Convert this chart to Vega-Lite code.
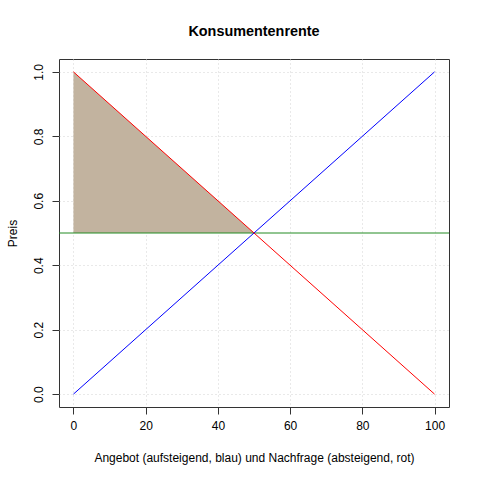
{
  "$schema": "https://vega.github.io/schema/vega-lite/v6.json",
  "autosize": "none",
  "width": 390,
  "height": 348,
  "padding": {"left": 59, "top": 59, "right": 31, "bottom": 73},
  "background": "white",
  "title": {"text": "Konsumentenrente", "font": "Liberation Sans", "fontSize": 14.4, "fontWeight": "bold", "color": "black", "anchor": "middle", "offset": 20},
  "config": {
    "view": {"stroke": "#333333", "strokeWidth": 1},
    "axis": {"labelFont": "Liberation Sans", "titleFont": "Liberation Sans", "labelFontSize": 12, "titleFontSize": 12, "titleFontWeight": "normal", "labelColor": "black", "titleColor": "black", "tickColor": "#333333", "tickSize": 7, "domain": false, "grid": true, "gridColor": "#D3D3D3", "gridDash": [1, 3], "gridWidth": 1}
  },
  "datasets": {
    "supply": [{"x": 0, "y": 0}, {"x": 100, "y": 1}],
    "demand": [{"x": 0, "y": 1}, {"x": 100, "y": 0}],
    "surplus": [{"x": 0, "y": 1}, {"x": 50, "y": 0.5}],
    "price": [{"y": 0.5}]
  },
  "layer": [
    {
      "data": {"name": "surplus"},
      "mark": {"type": "area", "color": "#C2B39F", "opacity": 1},
      "encoding": {
        "x": {"field": "x", "type": "quantitative", "scale": {"domain": [-4, 104], "nice": false, "zero": false}, "axis": {"values": [0, 20, 40, 60, 80, 100], "title": "Angebot (aufsteigend, blau) und Nachfrage (absteigend, rot)", "labelPadding": 6, "titlePadding": 21}},
        "y": {"field": "y", "type": "quantitative", "scale": {"domain": [-0.04, 1.04], "nice": false, "zero": false}, "axis": {"values": [0, 0.2, 0.4, 0.6, 0.8, 1.0], "format": ".1f", "title": "Preis", "labelAngle": -90, "labelAlign": "center", "labelBaseline": "bottom", "labelPadding": 7, "titlePadding": 13}},
        "y2": {"datum": 0.5}
      }
    },
    {
      "data": {"name": "price"},
      "mark": {"type": "rule", "color": "#228B22", "strokeWidth": 1},
      "encoding": {"y": {"field": "y", "type": "quantitative"}}
    },
    {
      "data": {"name": "supply"},
      "mark": {"type": "line", "color": "#0000FF", "strokeWidth": 1},
      "encoding": {"x": {"field": "x", "type": "quantitative"}, "y": {"field": "y", "type": "quantitative"}}
    },
    {
      "data": {"name": "demand"},
      "mark": {"type": "line", "color": "#FF0000", "strokeWidth": 1},
      "encoding": {"x": {"field": "x", "type": "quantitative"}, "y": {"field": "y", "type": "quantitative"}}
    }
  ]
}
